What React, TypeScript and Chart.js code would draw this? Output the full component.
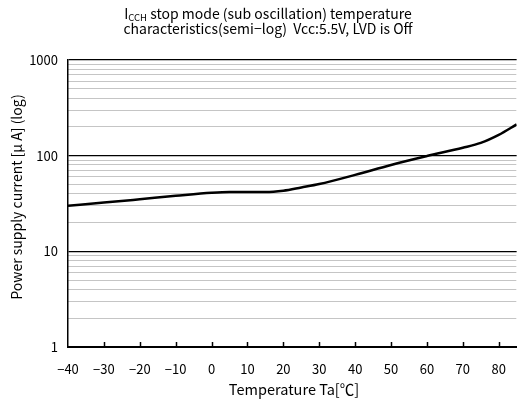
import React, { useEffect, useRef } from 'react';
import { Chart, registerables } from 'chart.js';

Chart.register(...registerables);

const temperatures = [-40, -30, -20, -10, 0, 5, 10, 15, 20, 25, 30, 40, 50, 60, 70, 75, 80, 85];
const currents = [30, 32.3, 35, 38, 41, 41.8, 41.8, 41.6, 43, 46.5, 50.5, 63, 80, 99, 121, 136, 165, 212];
const xTickValues = [-40, -30, -20, -10, 0, 10, 20, 30, 40, 50, 60, 70, 80];
const yTickLabels = [1, 10, 100, 1000];
const yMinorFactors = [2, 3, 4, 5, 6, 7, 8, 9];
const titleLine1Main = 'I';
const titleLine1Sub = 'CCH';
const titleLine1Rest = ' stop mode (sub oscillation) temperature';
const titleLine2 = 'characteristics(semi\u2212log)  Vcc:5.5V, LVD is Off';
const xTitle = 'Temperature Ta[\u2103]';
const yTitle = 'Power supply current [\u03bc A] (log)';

const FONT = '"Noto Sans CJK JP", "Noto Sans", sans-serif';

const yGridValues: number[] = [];
yTickLabels.forEach((d, i) => {
  yGridValues.push(d);
  if (i < yTickLabels.length - 1) yMinorFactors.forEach((f) => yGridValues.push(d * f));
});

const isMajor = (v: number) => yTickLabels.indexOf(v) >= 0;

const decorPlugin = {
  id: 'decor',
  afterDraw(chart: any) {
    const { ctx, chartArea, scales } = chart;
    const xs = scales.x;
    ctx.save();
    ctx.strokeStyle = '#000';
    ctx.lineWidth = 1.5;
    xs.ticks.forEach((t: any) => {
      const px = Math.round(xs.getPixelForValue(t.value)) + 0.5;
      if (px <= chartArea.left + 2) return;
      ctx.beginPath();
      ctx.moveTo(px, chartArea.bottom);
      ctx.lineTo(px, chartArea.bottom - 5);
      ctx.stroke();
    });
    ctx.fillStyle = '#000';
    const cx = 268;
    ctx.textBaseline = 'alphabetic';
    ctx.font = '14px ' + FONT;
    const wMain = ctx.measureText(titleLine1Main).width;
    const wRest = ctx.measureText(titleLine1Rest).width;
    ctx.font = '9.5px ' + FONT;
    const wSub = ctx.measureText(titleLine1Sub).width;
    let x0 = cx - (wMain + wSub + wRest) / 2;
    ctx.textAlign = 'left';
    ctx.font = '14px ' + FONT;
    ctx.fillText(titleLine1Main, x0, 19);
    x0 += wMain;
    ctx.font = '9.5px ' + FONT;
    ctx.fillText(titleLine1Sub, x0, 21);
    x0 += wSub;
    ctx.font = '14px ' + FONT;
    ctx.fillText(titleLine1Rest, x0, 19);
    ctx.textAlign = 'center';
    ctx.fillText(titleLine2, cx, 34);
    ctx.textBaseline = 'middle';
    ctx.font = '14.5px ' + FONT;
    ctx.fillText(xTitle, 294, 389);
    ctx.translate(17, 197);
    ctx.rotate(-Math.PI / 2);
    ctx.font = '14px ' + FONT;
    ctx.fillText(yTitle, 0, 0);
    ctx.restore();
  },
};

export default function App() {
  const ref = useRef<HTMLCanvasElement | null>(null);
  useEffect(() => {
    document.body.style.margin = '0';
    const canvas = ref.current;
    if (!canvas) return;
    const points = temperatures.map((t, i) => ({ x: t, y: currents[i] }));
    const chart = new Chart(canvas, {
      type: 'line',
      data: {
        datasets: [
          {
            data: points,
            borderColor: '#000',
            borderWidth: 2.5,
            pointRadius: 0,
            tension: 0.4,
            cubicInterpolationMode: 'monotone',
            fill: false,
          },
        ],
      },
      options: {
        animation: false,
        responsive: false,
        devicePixelRatio: 1,
        layout: { padding: { top: 60, right: 2, left: 0, bottom: 0 } },
        plugins: { legend: { display: false }, tooltip: { enabled: false }, title: { display: false } },
        scales: {
          x: {
            type: 'linear',
            min: -40,
            max: 85,
            afterBuildTicks: (axis: any) => {
              axis.ticks = xTickValues.map((v) => ({ value: v }));
            },
            afterFit: (axis: any) => {
              axis.height = 56;
            },
            grid: { display: false, drawTicks: false },
            border: { display: true, color: '#000', width: 2 },
            ticks: {
              padding: 14,
              color: '#000',
              font: { family: FONT, size: 13 },
              maxRotation: 0,
              autoSkip: false,
              callback: (v: any) => (Number(v) < 0 ? '\u2212' + Math.abs(Number(v)) : String(v)),
            },
          },
          y: {
            type: 'logarithmic',
            min: 1,
            max: 1000,
            afterBuildTicks: (axis: any) => {
              axis.ticks = yGridValues.map((v) => ({ value: v }));
            },
            afterFit: (axis: any) => {
              axis.width = 68;
            },
            grid: {
              drawTicks: false,
              color: (c: any) => (c.tick && isMajor(c.tick.value) ? '#000' : '#8a8a8a'),
              lineWidth: (c: any) => (c.tick && isMajor(c.tick.value) ? 1.2 : 1),
            },
            border: {
              display: true,
              color: '#000',
              width: 1.5,
              dash: (c: any) => (c.tick && !isMajor(c.tick.value) ? [1, 1] : []),
            },
            ticks: {
              padding: 10,
              color: '#000',
              autoSkip: false,
              font: { family: FONT, size: 13 },
              callback: (v: any) => (isMajor(Number(v)) ? String(v) : ''),
            },
          },
        },
      },
      plugins: [decorPlugin],
    });
    return () => chart.destroy();
  }, []);
  return (
    <div style={{ position: 'fixed', left: 0, top: 0, width: 517, height: 403, overflow: 'hidden', background: '#fff' }}>
      <canvas ref={ref} width={520} height={403} style={{ width: 520, height: 403, display: 'block' }} />
    </div>
  );
}
